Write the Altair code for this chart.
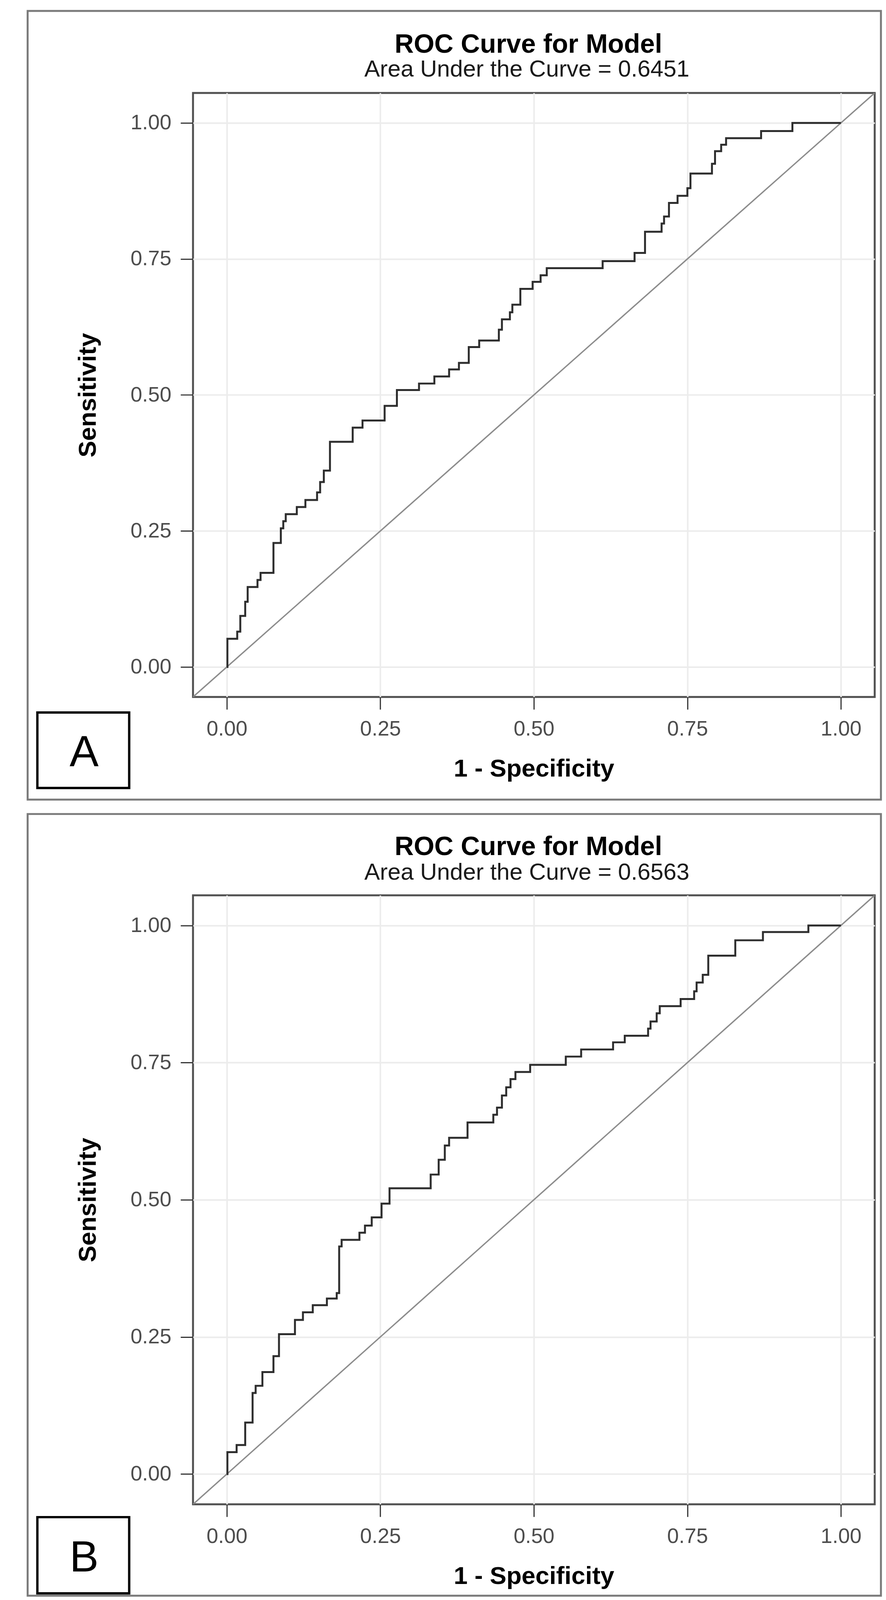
import altair as alt
import pandas as pd

# ---------------- data ----------------
# Panel A: ROC curve (1 - specificity, sensitivity), each point = level after the step
fpr_a = [0.000, 0.001, 0.017, 0.022, 0.030, 0.034, 0.050, 0.055, 0.076, 0.088,
         0.092, 0.096, 0.114, 0.128, 0.147, 0.152, 0.158, 0.168, 0.205, 0.221,
         0.257, 0.277, 0.313, 0.338, 0.362, 0.378, 0.394, 0.411, 0.443, 0.448,
         0.461, 0.465, 0.478, 0.498, 0.511, 0.521, 0.612, 0.664, 0.681, 0.708,
         0.712, 0.720, 0.734, 0.750, 0.755, 0.790, 0.795, 0.805, 0.813, 0.870,
         0.921, 1.000]
tpr_a = [0.000, 0.052, 0.065, 0.094, 0.120, 0.147, 0.160, 0.173, 0.228, 0.255,
         0.268, 0.281, 0.294, 0.307, 0.321, 0.340, 0.361, 0.414, 0.440, 0.453,
         0.480, 0.509, 0.521, 0.534, 0.547, 0.559, 0.588, 0.600, 0.620, 0.639,
         0.652, 0.666, 0.695, 0.708, 0.720, 0.733, 0.746, 0.761, 0.800, 0.815,
         0.828, 0.853, 0.866, 0.880, 0.907, 0.925, 0.948, 0.960, 0.972, 0.985,
         1.000, 1.000]

# Panel B
fpr_b = [0.000, 0.001, 0.016, 0.030, 0.042, 0.047, 0.058, 0.076, 0.085, 0.111,
         0.124, 0.140, 0.163, 0.179, 0.183, 0.187, 0.216, 0.225, 0.236, 0.252,
         0.265, 0.332, 0.345, 0.355, 0.362, 0.392, 0.434, 0.440, 0.448, 0.455,
         0.462, 0.470, 0.494, 0.552, 0.577, 0.629, 0.648, 0.686, 0.690, 0.700,
         0.705, 0.739, 0.761, 0.765, 0.775, 0.784, 0.828, 0.873, 0.947, 1.000]
tpr_b = [0.000, 0.040, 0.053, 0.094, 0.148, 0.161, 0.186, 0.215, 0.255, 0.281,
         0.295, 0.308, 0.320, 0.330, 0.415, 0.427, 0.440, 0.453, 0.468, 0.493,
         0.521, 0.546, 0.573, 0.599, 0.613, 0.641, 0.655, 0.668, 0.690, 0.705,
         0.720, 0.733, 0.746, 0.761, 0.774, 0.787, 0.799, 0.812, 0.825, 0.840,
         0.853, 0.866, 0.880, 0.896, 0.910, 0.945, 0.973, 0.988, 1.000, 1.000]

tick_values = [0.0, 0.25, 0.5, 0.75, 1.0]
panel_titles = ["ROC Curve for Model", "ROC Curve for Model"]
panel_subtitles = ["Area Under the Curve = 0.6451", "Area Under the Curve = 0.6563"]
panel_letters = ["A", "B"]
axis_range = [-0.055, 1.055]   # plot extent (expanded 0..1)

FONT = "Liberation Sans"


def panel(fpr, tpr, title, subtitle, letter, width, height, frame_top, frame_bottom,
          box_top, box_bottom, letter_base, title_base, sub_base):
    xs = alt.Scale(domain=axis_range, nice=False, zero=False)
    ys = alt.Scale(domain=axis_range, nice=False, zero=False)
    x_axis = alt.Axis(title="1 - Specificity", values=tick_values, format=".2f",
                      labelPadding=24, titlePadding=43)
    y_axis = alt.Axis(title="Sensitivity", values=tick_values, format=".2f",
                      labelPadding=24, titlePadding=76)

    diag_df = pd.DataFrame({"fpr": axis_range, "tpr": axis_range})
    roc_df = pd.DataFrame({"fpr": fpr, "tpr": tpr})
    one = pd.DataFrame({"title": [title], "subtitle": [subtitle], "letter": [letter]})

    diag = alt.Chart(diag_df).mark_line(color="#8c8c8c", strokeWidth=3.5, clip=True).encode(
        x=alt.X("fpr:Q", scale=xs, axis=x_axis),
        y=alt.Y("tpr:Q", scale=ys, axis=y_axis),
    )
    roc = alt.Chart(roc_df).mark_line(interpolate="step-after", color="#2e2e2e",
                                      strokeWidth=5, clip=True).encode(
        x=alt.X("fpr:Q", scale=xs),
        y=alt.Y("tpr:Q", scale=ys),
    )
    frame = alt.Chart(one).mark_rect(fillOpacity=0, stroke="#7a7a7a", strokeWidth=5).encode(
        x=alt.value(-425), x2=alt.value(1768), y=alt.value(frame_top), y2=alt.value(frame_bottom)
    )
    box = alt.Chart(one).mark_rect(fillOpacity=0, stroke="black", strokeWidth=6).encode(
        x=alt.value(-400), x2=alt.value(-164), y=alt.value(box_top), y2=alt.value(box_bottom)
    )
    letter_txt = alt.Chart(one).mark_text(font=FONT, fontSize=112, color="black",
                                          align="center", baseline="alphabetic").encode(
        x=alt.value(-280), y=alt.value(letter_base), text="letter:N"
    )
    title_txt = alt.Chart(one).mark_text(font=FONT, fontSize=68, fontWeight="bold",
                                         color="black", align="center",
                                         baseline="alphabetic").encode(
        x=alt.value(862), y=alt.value(title_base), text="title:N"
    )
    sub_txt = alt.Chart(one).mark_text(font=FONT, fontSize=60, color="#1a1a1a",
                                       align="center", baseline="alphabetic").encode(
        x=alt.value(858), y=alt.value(sub_base), text="subtitle:N"
    )
    return alt.layer(frame, diag, roc, box, letter_txt, title_txt, sub_txt).properties(
        width=width, height=height
    )


pa = panel(fpr_a, tpr_a, panel_titles[0], panel_subtitles[0], panel_letters[0],
           1752, 1553, -211, 1817, 1593, 1787, 1731, -104, -42)
pb = panel(fpr_b, tpr_b, panel_titles[1], panel_subtitles[1], panel_letters[1],
           1752, 1566, -209, 1801, 1599, 1795, 1739, -103, -40)

chart = alt.vconcat(pa, pb, spacing=27).properties(
    padding={"left": 58, "top": 6, "right": 0, "bottom": 0},
    background="white",
).configure_view(
    stroke="#505050", strokeWidth=5
).configure_axis(
    labelFont=FONT, labelFontSize=54, labelColor="#4d4d4d",
    titleFont=FONT, titleFontSize=64, titleFontWeight="bold", titleColor="black",
    tickSize=32, tickWidth=3, tickColor="#333333",
    domain=False, grid=True, gridColor="#ececec", gridWidth=4,
)

chart.save("out.html", embed_options={"renderer": "svg", "actions": False})
